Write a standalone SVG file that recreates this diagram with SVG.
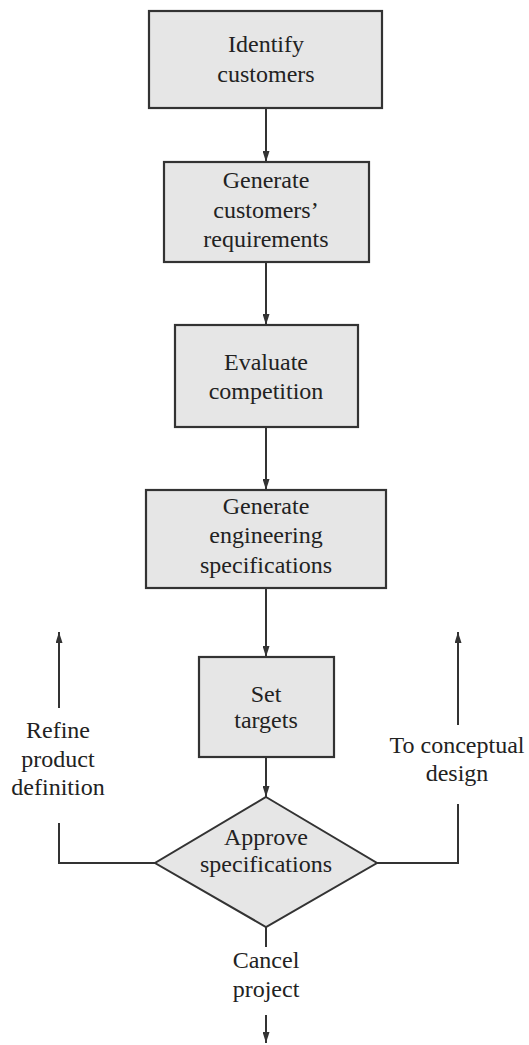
<svg xmlns="http://www.w3.org/2000/svg" width="529" height="1045" viewBox="0 0 529 1045">
  <style>
    .box { fill: #e6e6e6; stroke: #333333; stroke-width: 2.2; }
    .dia { fill: #e6e6e6; stroke: #333333; stroke-width: 2; stroke-linejoin: miter; }
    .lbl { font-size: 24px; fill: #222222; text-anchor: middle; }
    .ln { fill: none; stroke: #333333; stroke-width: 2; }
  </style>
  <defs>
    <marker id="arrow" viewBox="0 0 11 7" refX="11" refY="3.5" markerWidth="11" markerHeight="7" markerUnits="userSpaceOnUse" orient="auto">
      <path d="M0,0 L11,3.5 L0,7 Z" fill="#333333"/>
    </marker>
  </defs>
  <rect width="529" height="1045" fill="#ffffff"/>

  <g id="connectors">
    <line class="ln" x1="266" y1="108" x2="266" y2="162" marker-end="url(#arrow)"/>
    <line class="ln" x1="266" y1="262" x2="266" y2="325" marker-end="url(#arrow)"/>
    <line class="ln" x1="266" y1="427" x2="266" y2="490" marker-end="url(#arrow)"/>
    <line class="ln" x1="266" y1="588" x2="266" y2="657" marker-end="url(#arrow)"/>
    <line class="ln" x1="266" y1="757" x2="266" y2="797" marker-end="url(#arrow)"/>
    <line class="ln" x1="266" y1="927" x2="266" y2="947"/>
    <line class="ln" x1="266" y1="1015" x2="266" y2="1043" marker-end="url(#arrow)"/>
    <polyline class="ln" points="155,863 59,863 59,823"/>
    <line class="ln" x1="59" y1="708" x2="59" y2="632" marker-end="url(#arrow)"/>
    <polyline class="ln" points="377,863 458,863 458,804"/>
    <line class="ln" x1="458" y1="725" x2="458" y2="632" marker-end="url(#arrow)"/>
  </g>

  <g font-family="'Liberation Serif', 'DejaVu Serif', serif">
    <g id="identify">
      <rect class="box" x="149" y="11" width="233" height="97"/>
      <text class="lbl" x="266" y="52">Identify</text>
      <text class="lbl" x="266" y="82">customers</text>
    </g>

    <g id="requirements">
      <rect class="box" x="164" y="162" width="205" height="100"/>
      <text class="lbl" x="266" y="188">Generate</text>
      <text class="lbl" x="266" y="218">customers’</text>
      <text class="lbl" x="266" y="247">requirements</text>
    </g>

    <g id="competition">
      <rect class="box" x="175" y="325" width="183" height="102"/>
      <text class="lbl" x="266" y="370">Evaluate</text>
      <text class="lbl" x="266" y="399">competition</text>
    </g>

    <g id="eng-specs">
      <rect class="box" x="146" y="490" width="240" height="98"/>
      <text class="lbl" x="266" y="514">Generate</text>
      <text class="lbl" x="266" y="543">engineering</text>
      <text class="lbl" x="266" y="573">specifications</text>
    </g>

    <g id="targets">
      <rect class="box" x="199" y="657" width="135" height="100"/>
      <text class="lbl" x="266" y="702">Set</text>
      <text class="lbl" x="266" y="728">targets</text>
    </g>

    <g id="approve">
      <polygon class="dia" points="266,797 377,863 266,927 155,863"/>
      <text class="lbl" x="266" y="845">Approve</text>
      <text class="lbl" x="266" y="872">specifications</text>
    </g>

    <g id="refine">
      <text class="lbl" x="58" y="738">Refine</text>
      <text class="lbl" x="58" y="767">product</text>
      <text class="lbl" x="58" y="795">definition</text>
    </g>

    <g id="conceptual">
      <text class="lbl" x="457" y="753">To conceptual</text>
      <text class="lbl" x="457" y="781">design</text>
    </g>

    <g id="cancel">
      <text class="lbl" x="266" y="968">Cancel</text>
      <text class="lbl" x="266" y="997">project</text>
    </g>
  </g>
</svg>
